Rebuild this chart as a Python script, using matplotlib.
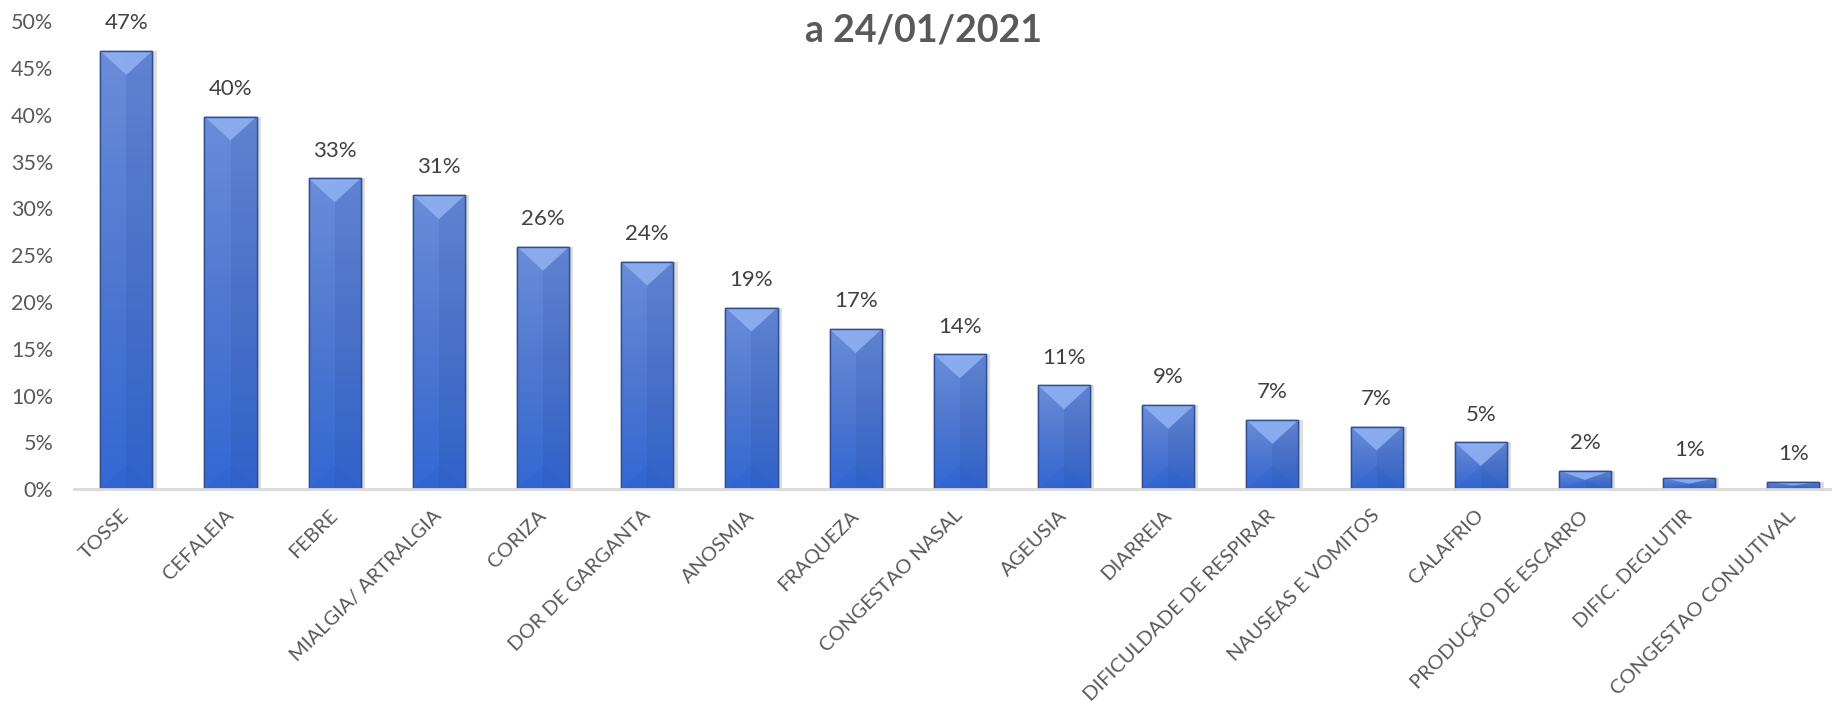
import matplotlib
matplotlib.use('Agg')
import matplotlib.pyplot as plt
import numpy as np
from matplotlib.patches import Polygon, Rectangle
from matplotlib.colors import LinearSegmentedColormap
from matplotlib.ticker import FuncFormatter, MultipleLocator

plt.rcParams['font.family'] = ['Lato', 'DejaVu Sans']

sintomas = ['TOSSE', 'CEFALEIA', 'FEBRE', 'MIALGIA/ ARTRALGIA', 'CORIZA',
            'DOR DE GARGANTA', 'ANOSMIA', 'FRAQUEZA', 'CONGESTAO NASAL',
            'AGEUSIA', 'DIARREIA', 'DIFICULDADE DE RESPIRAR',
            'NAUSEAS E VOMITOS', 'CALAFRIO', 'PRODUÇÃO DE ESCARRO',
            'DIFIC. DEGLUTIR', 'CONGESTAO CONJUTIVAL']
percentual = [46.8, 39.8, 33.2, 31.4, 25.9, 24.3, 19.4, 17.1, 14.4,
              11.1, 9.0, 7.4, 6.7, 5.0, 2.0, 1.2, 0.8]
titulo = 'a 24/01/2021'

gray = '#595959'
fig = plt.figure(figsize=(18.33, 7.01), dpi=100)
ax = fig.add_axes([0.0405, 0.302, 0.9595, 0.668])

x = np.arange(len(sintomas))
vals = np.array(percentual) / 100.0
w = 0.5
bars = ax.bar(x, vals, width=w, color='#4472C4', edgecolor='#2F4F8F',
              linewidth=1.0, zorder=3)

grad = LinearSegmentedColormap.from_list('g', ['#3468D4', '#4F78D0', '#6A8DDA'])
img = np.linspace(0, 1, 100).reshape(-1, 1)
depth = 0.0255
for xi, v, b in zip(x, vals, bars):
    x0, x1 = xi - w / 2, xi + w / 2
    # soft shadow on the right
    ax.add_patch(Rectangle((x1, 0), 0.04, v, color='#BFBFBF', alpha=0.5,
                           lw=0, zorder=2))
    im = ax.imshow(img, cmap=grad, aspect='auto', origin='lower',
                   extent=(x0, x1, 0, v), zorder=3.1)
    im.set_clip_path(b)
    d = min(depth, v / 2)
    # right half slightly darker
    ax.add_patch(Rectangle((xi, 0), w / 2, v, color='#1F3F8A', alpha=0.12,
                           lw=0, zorder=3.2))
    # top bevel triangle
    ax.add_patch(Polygon([(x0, v), (x1, v), (xi, v - d)], closed=True,
                         color='#8EB0F2', alpha=0.9, lw=0, zorder=3.3))
    # bottom bevel triangle
    ax.add_patch(Polygon([(x0, 0), (x1, 0), (xi, d)], closed=True,
                         color='#2A5CC0', alpha=0.2, lw=0, zorder=3.3))
    # edge outline on top
    ax.add_patch(Rectangle((x0, 0), w, v, fill=False, ec='#2F4F8F',
                           lw=1.0, zorder=3.4))
    ax.annotate(f'{v * 100:.0f}%', (xi, v), xytext=(0, 20),
                textcoords='offset points', ha='center', va='center',
                fontsize=16, color='#404040')

ax.set_xlim(-0.5, 16.38)
ax.set_ylim(0, 0.5)
ax.yaxis.set_major_locator(MultipleLocator(0.05))
ax.yaxis.set_major_formatter(FuncFormatter(lambda y, _: f'{y * 100:.0f}%'))
ax.set_xticks(x)
ax.set_xticklabels(sintomas, rotation=45, ha='right', va='center',
                   rotation_mode='anchor')
ax.tick_params(axis='x', length=0, pad=17, labelsize=14.5, labelcolor=gray)
ax.tick_params(axis='y', length=0, pad=15, labelsize=15.5, labelcolor=gray)
for s in ['top', 'right', 'left']:
    ax.spines[s].set_visible(False)
ax.spines['bottom'].set_color('#D9D9D9')
ax.spines['bottom'].set_linewidth(2)
ax.spines['bottom'].set_zorder(4)

fig.text(0.504, 1 - 30.5 / 701, titulo, ha='center', va='center',
         fontsize=27, fontweight='bold', color=gray)

fig.savefig('out.png', dpi=100)
